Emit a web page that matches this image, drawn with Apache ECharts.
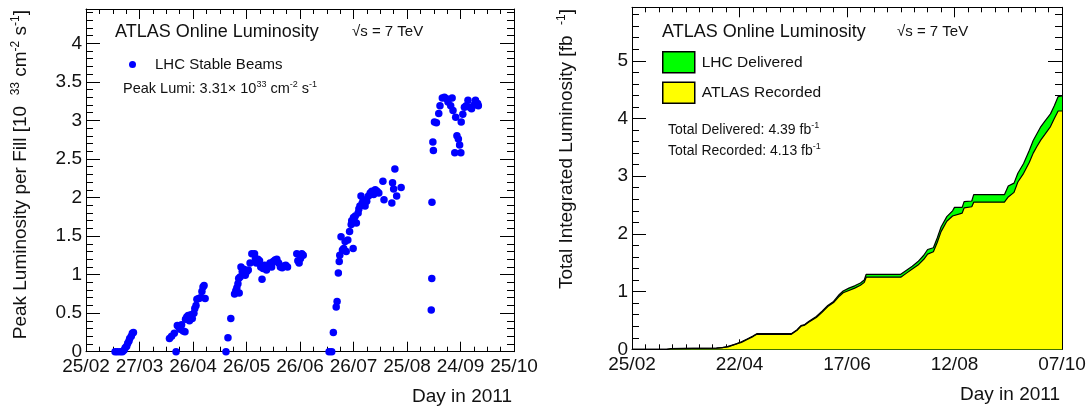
<!DOCTYPE html>
<html>
<head>
<meta charset="utf-8">
<title>ATLAS Online Luminosity 2011</title>
<script src="https://cdn.jsdelivr.net/npm/echarts@6/dist/echarts.min.js"></script>
<style>
  html, body { margin: 0; padding: 0; background: #fff; }
  #chart { width: 1089px; height: 412px; }
</style>
</head>
<body>
<div id="chart"></div>
<script>
// x values are days counted from 25/02/2011
const peakTicks = ['25/02', '27/03', '26/04', '26/05', '26/06', '26/07', '25/08', '24/09', '25/10'];
const lumiTicks = ['25/02', '22/04', '17/06', '12/08', '07/10'];

// peak luminosity per fill [10^33 cm^-2 s^-1]
const fillDay = [
  16.3, 17.6, 19.1, 20.4, 21.3, 22.0, 22.8, 23.4, 24.1, 24.5, 25.4, 26.0, 26.6,
  46.8, 48.0, 49.5, 50.5, 51.2, 52.0, 52.8, 53.6, 54.5, 55.5, 55.8, 56.5, 57.3, 58.0, 58.8, 59.6,
  60.5, 61.0, 61.7, 62.2, 63.2, 64.2, 65.0, 65.6, 66.2, 66.8,
  78.5, 79.6, 81.2, 83.3, 84.0, 84.6, 85.2, 85.6, 85.9, 86.4, 86.9, 87.6, 88.5, 89.3, 90.2, 91.0,
  92.0, 93.0, 94.5, 95.0, 95.5, 96.4, 97.3, 98.0, 98.7, 99.3, 100.2, 101.2, 102.2, 103.2, 104.1,
  105.0, 106.0, 107.0, 108.0, 109.0, 110.0, 111.0, 112.0, 113.0, 118.2, 118.8, 119.5, 120.3, 121.0, 121.8,
  136.3, 137.8, 138.7, 140.3, 140.8, 141.5, 142.0, 142.3, 143.0, 143.8, 144.5, 145.3, 145.9, 146.8,
  147.8, 148.7, 149.0, 149.8, 150.0, 150.3, 151.0, 151.6, 152.6, 153.0, 153.6, 154.2, 154.9, 155.5,
  155.8, 156.5, 157.4, 158.4, 159.4, 160.3, 161.3, 162.2, 163.2, 164.2, 166.5, 167.1, 171.5, 171.9,
  172.5, 173.2, 174.2, 176.7,
  193.6, 193.9, 194.0, 194.5, 194.8, 195.4, 196.5, 197.8, 198.5, 199.8, 201.0, 202.2, 203.0, 204.5,
  205.3, 205.8, 206.8, 207.3, 208.0, 208.8, 209.5, 210.2, 210.4, 211.3, 212.2, 213.2, 214.2, 215.2,
  216.2, 217.6, 218.4, 219.6, 220.0
];
const peakLumi = [
  0, 0, 0, 0, 0.02, 0.05, 0.07, 0.11, 0.14, 0.17, 0.20, 0.24, 0.25,
  0.17, 0.20, 0.24, 0, 0.34, 0.32, 0.29, 0.35, 0.27, 0.26, 0.42, 0.45, 0.47, 0.40, 0.48, 0.43,
  0.50, 0.56, 0.60, 0.68, 0.69, 0.70, 0.78, 0.84, 0.86, 0.69,
  0, 0.18, 0.43, 0.75, 0.79, 0.83, 0.88, 0.95, 0.76, 0.97, 1.10, 1.04, 1.07, 0.99, 1.04, 1.06,
  1.15, 1.27, 1.27, 1.21, 1.15, 1.20, 1.18, 1.10, 0.94, 1.08, 1.12, 1.06, 1.10, 1.15, 1.10,
  1.17, 1.19, 1.20, 1.15, 1.10, 1.09, 1.11, 1.12, 1.10, 1.27, 1.18, 1.15, 1.21, 1.27, 1.25,
  0, 0, 0.25, 0.58, 0.65, 1.02, 1.17, 1.25, 1.49, 1.32, 1.34, 1.43, 1.30, 1.45,
  1.56, 1.65, 1.70, 1.34, 1.74, 1.71, 1.76, 1.67, 1.80, 1.85, 1.89, 2.02, 1.93, 1.97,
  1.90, 1.89, 1.95, 2.02, 2.06, 2.08, 2.04, 2.10, 2.08, 2.06, 2.21, 1.97, 1.93, 2.19,
  2.11, 2.37, 2.02, 2.13,
  0.54, 0.95, 1.94, 2.72, 2.61, 2.98, 2.97, 3.09, 3.19, 3.29, 3.30, 3.28, 3.24, 3.19,
  3.29, 3.13, 2.58, 3.04, 2.80, 2.76, 2.68, 2.58, 2.98, 3.08, 3.17, 3.19, 3.26, 3.17,
  3.15, 3.20, 3.26, 3.22, 3.19
];

// total integrated luminosity [fb^-1]
const intDay = [
  0, 18, 20, 44, 47, 50, 54, 57, 60, 63, 65, 83, 86, 88, 90, 92, 96, 99, 102, 105, 108, 110,
  113, 116, 119, 121, 122, 140, 143, 146, 149, 152, 154, 157, 159, 161, 164, 167, 168, 172,
  173, 177, 178, 194, 196, 199, 201, 204, 207, 209, 211, 213, 215, 218, 220, 222, 224
];
const delivered = [
  0, 0, 0.01, 0.02, 0.03, 0.05, 0.09, 0.13, 0.18, 0.23, 0.27, 0.27, 0.34, 0.41, 0.43, 0.48, 0.57,
  0.66, 0.76, 0.83, 0.95, 1.01, 1.06, 1.10, 1.15, 1.20, 1.30, 1.30, 1.37, 1.44, 1.52, 1.63, 1.73,
  1.76, 1.93, 2.12, 2.30, 2.40, 2.46, 2.46, 2.56, 2.57, 2.68, 2.68, 2.83, 2.88, 3.05, 3.22, 3.45,
  3.62, 3.74, 3.86, 3.95, 4.08, 4.22, 4.38, 4.39
];
const recorded = [
  0, 0, 0.01, 0.02, 0.03, 0.04, 0.09, 0.12, 0.17, 0.22, 0.26, 0.26, 0.33, 0.40, 0.42, 0.47, 0.55,
  0.64, 0.74, 0.81, 0.92, 0.98, 1.02, 1.06, 1.11, 1.16, 1.25, 1.25, 1.32, 1.39, 1.46, 1.56, 1.65,
  1.69, 1.85, 2.04, 2.22, 2.31, 2.34, 2.36, 2.45, 2.47, 2.55, 2.55, 2.64, 2.72, 2.90, 3.05, 3.24,
  3.40, 3.52, 3.63, 3.72, 3.86, 4.00, 4.13, 4.13
];

const FONT = '"Liberation Sans", Arial, Helvetica, sans-serif';
const INK = '#111';

// ROOT style frame: axis on every side, ticks pointing inwards
function xFrame(grid, max, step, minor, labels, bottom) {
  return {
    type: 'value', gridIndex: grid, position: bottom ? 'bottom' : 'top',
    min: 0, max: max, interval: step,
    axisLine: { onZero: false, lineStyle: { color: '#000', width: 1 } },
    axisTick: { inside: true, length: 10, lineStyle: { color: '#000' } },
    minorTick: { show: true, splitNumber: minor, length: 5, lineStyle: { color: '#000' } },
    splitLine: { show: false },
    axisLabel: {
      show: bottom, margin: 6, fontSize: 19, fontFamily: FONT, color: INK,
      formatter: v => labels[Math.round(v / step)]
    },
    name: bottom ? 'Day in 2011' : '',
    nameLocation: 'end', nameGap: -2,
    nameTextStyle: { fontSize: 19, fontFamily: FONT, color: INK, align: 'right', verticalAlign: 'top', padding: [36, 0, 0, 0] }
  };
}

function yFrame(grid, max, step, left) {
  return {
    type: 'value', gridIndex: grid, position: left ? 'left' : 'right',
    min: 0, max: max, interval: step,
    axisLine: { onZero: false, lineStyle: { color: '#000', width: 1 } },
    axisTick: { inside: true, length: 14, lineStyle: { color: '#000' } },
    minorTick: { show: true, splitNumber: 5, length: 7, lineStyle: { color: '#000' } },
    splitLine: { show: false },
    axisLabel: { show: left, margin: 4, fontSize: 19, fontFamily: FONT, color: INK, showMaxLabel: false }
  };
}

function supRich(size) {
  return {
    s: { fontSize: Math.round(size * 0.62), fontFamily: FONT, fill: INK, verticalAlign: 'top', lineHeight: Math.round(size * 0.6) }
  };
}

function note(x, y, text, size, extra) {
  return Object.assign({
    type: 'text', x: x, y: y, silent: true,
    style: {
      text: text, fill: INK, fontSize: size, fontFamily: FONT,
      align: 'left', verticalAlign: 'middle', lineHeight: Math.round(size * 1.2), rich: supRich(size)
    }
  }, extra || {});
}

const option = {
  animation: false,
  backgroundColor: '#fff',
  grid: [
    { left: 86, top: 9, width: 428, height: 342.7 },
    { left: 632, top: 7.3, width: 430, height: 342 }
  ],
  xAxis: [
    xFrame(0, 240, 30, 4, peakTicks, true),
    xFrame(0, 240, 30, 4, peakTicks, false),
    xFrame(1, 224, 56, 8, lumiTicks, true),
    xFrame(1, 224, 56, 8, lumiTicks, false)
  ],
  yAxis: [
    yFrame(0, 4.445, 0.5, true),
    yFrame(0, 4.445, 0.5, false),
    yFrame(1, 5.927, 1, true),
    yFrame(1, 5.927, 1, false)
  ],
  legend: [
    {
      data: [{ name: 'LHC Stable Beams', icon: 'circle', itemStyle: { color: '#0000ff', opacity: 1 } }],
      left: 129, top: 57, padding: 0, itemWidth: 7, itemHeight: 7, selectedMode: false,
      textStyle: { fontSize: 15, fontFamily: FONT, color: INK, padding: [0, 0, 0, 14] }
    },
    {
      data: [
        { name: 'LHC Delivered', icon: 'rect', itemStyle: { color: '#00ff00', borderColor: '#000', borderWidth: 1.5 } },
        { name: 'ATLAS Recorded', icon: 'rect', itemStyle: { color: '#ffff00', borderColor: '#000', borderWidth: 1.5 } }
      ],
      orient: 'vertical', left: 662, top: 51, padding: 0, itemWidth: 32, itemHeight: 21, itemGap: 8,
      selectedMode: false,
      textStyle: { fontSize: 15.5, fontFamily: FONT, color: INK, padding: [0, 0, 0, 2] }
    }
  ],
  series: [
    {
      name: 'LHC Stable Beams', type: 'scatter', xAxisIndex: 0, yAxisIndex: 0,
      symbol: 'circle', symbolSize: 7.5, itemStyle: { color: '#0000ff', opacity: 1 },
      data: fillDay.map((d, i) => [d, peakLumi[i]])
    },
    {
      name: 'LHC Delivered', type: 'line', xAxisIndex: 2, yAxisIndex: 2,
      showSymbol: false, itemStyle: { color: '#00ff00' },
      lineStyle: { color: '#000', width: 1.2 },
      areaStyle: { color: '#00ff00', opacity: 1 },
      data: intDay.map((d, i) => [d, delivered[i]])
    },
    {
      name: 'ATLAS Recorded', type: 'line', xAxisIndex: 2, yAxisIndex: 2,
      showSymbol: false, itemStyle: { color: '#ffff00' },
      lineStyle: { color: '#000', width: 1.2 },
      areaStyle: { color: '#ffff00', opacity: 1 },
      data: intDay.map((d, i) => [d, recorded[i]])
    }
  ],
  graphic: [
    note(115, 32, 'ATLAS Online Luminosity', 18),
    note(352, 32, '√s = 7 TeV', 15),
    note(123, 89, 'Peak Lumi: 3.31× 10{s|33} cm{s|-2} s{s|-1}', 14.5),
    note(21, 10, 'Peak Luminosity per Fill [10  {s|33} cm{s|-2} s{s|-1}]', 19, { rotation: Math.PI / 2 }),
    note(662, 32, 'ATLAS Online Luminosity', 18),
    note(897, 32, '√s = 7 TeV', 15),
    note(668, 130, 'Total Delivered: 4.39 fb{s|-1}', 14),
    note(668, 151, 'Total Recorded: 4.13 fb{s|-1}', 14),
    note(567, 9, 'Total Integrated Luminosity [fb  {s|-1}]', 19, { rotation: Math.PI / 2 })
  ]
};

// rotated axis titles end at the top of the frame
option.graphic[3].style.align = 'right';
option.graphic[8].style.align = 'right';

const myChart = echarts.init(document.getElementById('chart'), null, { renderer: 'canvas' });
myChart.setOption(option);
</script>
</body>
</html>
